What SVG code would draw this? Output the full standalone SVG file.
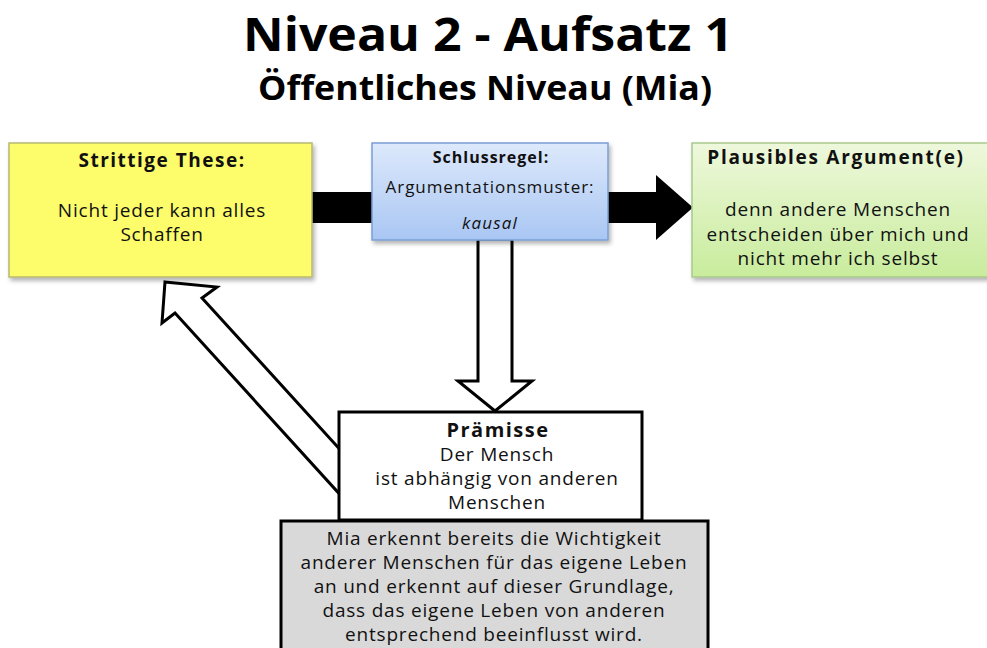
<svg xmlns="http://www.w3.org/2000/svg" width="987" height="648" viewBox="0 0 987 648">
  <style>
    text { font-family: "Open Sans", "Noto Sans", "Liberation Sans", sans-serif; fill: #111; text-anchor: middle; }
    .title { font-size: 46px; font-weight: bold; fill: #000; }
    .sub { font-size: 34px; font-weight: bold; fill: #000; }
    .h { font-weight: bold; }
    .t { font-size: 19px; letter-spacing: 0.8px; }
    .hollow { fill: #fff; stroke: #000; stroke-width: 3; stroke-linejoin: miter; }
  </style>
  <defs>
    <linearGradient id="gBlue" x1="0" y1="0" x2="0" y2="1">
      <stop offset="0" stop-color="#dde9fb"/>
      <stop offset="1" stop-color="#a9c6f3"/>
    </linearGradient>
    <linearGradient id="gGreen" x1="0" y1="0" x2="0" y2="1">
      <stop offset="0" stop-color="#eef8dc"/>
      <stop offset="1" stop-color="#c8ec9c"/>
    </linearGradient>
    <filter id="sh" x="-5%" y="-5%" width="115%" height="120%">
      <feDropShadow dx="2" dy="3" stdDeviation="2" flood-color="#000" flood-opacity="0.3"/>
    </filter>
  </defs>

  <rect width="987" height="648" fill="#fff"/>

  <g id="title">
    <text class="title" x="488" y="51" textLength="490" lengthAdjust="spacingAndGlyphs">Niveau 2 - Aufsatz 1</text>
    <text class="sub" x="485" y="100" textLength="454" lengthAdjust="spacingAndGlyphs">Öffentliches Niveau (Mia)</text>
  </g>

  <g id="connectors">
    <!-- black bar from These to Schlussregel -->
    <rect x="312" y="192" width="62" height="31" fill="#000"/>
    <!-- black arrow from Schlussregel to Argument -->
    <polygon points="606,192 656,192 656,175 693,207.5 656,240 656,223 606,223" fill="#000"/>
    <!-- hollow arrow down to Prämisse -->
    <polygon class="hollow" points="478,239 512,239 512,381 532,381 495,411 458,381 478,381"/>
    <!-- hollow diagonal arrow from Prämisse to These -->
    <polygon class="hollow" points="165,282 217,287 202,298 345,455 345,500 175,313 162,323"/>
  </g>

  <g id="these">
    <rect x="9" y="143" width="303" height="134" fill="#fdfd6c" stroke="#b7b970" stroke-width="1.5" filter="url(#sh)"/>
    <text class="h" x="162" y="167" style="font-size:19px;letter-spacing:1.5px">Strittige These:</text>
    <text class="t" x="162" y="217">Nicht jeder kann alles</text>
    <text class="t" x="162" y="241">Schaffen</text>
  </g>

  <g id="schlussregel">
    <rect x="372" y="143" width="236" height="97" fill="url(#gBlue)" stroke="#7a9fd6" stroke-width="1.5" filter="url(#sh)"/>
    <text class="h" x="491" y="163" style="font-size:16px;letter-spacing:1px">Schlussregel:</text>
    <text x="490" y="193" style="font-size:17px;letter-spacing:0.95px">Argumentationsmuster:</text>
    <text x="490" y="229" style="font-size:17px;letter-spacing:1.2px;font-style:italic">kausal</text>
  </g>

  <g id="argument">
    <rect x="692" y="143" width="300" height="134" fill="url(#gGreen)" stroke="#a9c98c" stroke-width="1.5" filter="url(#sh)"/>
    <text class="h" x="836" y="164" style="font-size:19px;letter-spacing:1.7px">Plausibles Argument(e)</text>
    <text class="t" x="838" y="216">denn andere Menschen</text>
    <text class="t" x="838" y="241">entscheiden über mich und</text>
    <text class="t" x="838" y="265">nicht mehr ich selbst</text>
  </g>

  <g id="praemisse">
    <rect x="339" y="412" width="303" height="108" fill="#fff" stroke="#000" stroke-width="3"/>
    <text class="h" x="498" y="437" style="font-size:20px;letter-spacing:1.5px">Prämisse</text>
    <text class="t" x="497" y="461">Der Mensch</text>
    <text class="t" x="497" y="485">ist abhängig von anderen</text>
    <text class="t" x="497" y="509">Menschen</text>
  </g>

  <g id="erlaeuterung">
    <rect x="281" y="521" width="427" height="140" fill="#d9d9d9" stroke="#000" stroke-width="3"/>
    <text class="t" x="494" y="545">Mia erkennt bereits die Wichtigkeit</text>
    <text class="t" x="494" y="569">anderer Menschen für das eigene Leben</text>
    <text class="t" x="494" y="593">an und erkennt auf dieser Grundlage,</text>
    <text class="t" x="494" y="617">dass das eigene Leben von anderen</text>
    <text class="t" x="494" y="641">entsprechend beeinflusst wird.</text>
  </g>
</svg>
